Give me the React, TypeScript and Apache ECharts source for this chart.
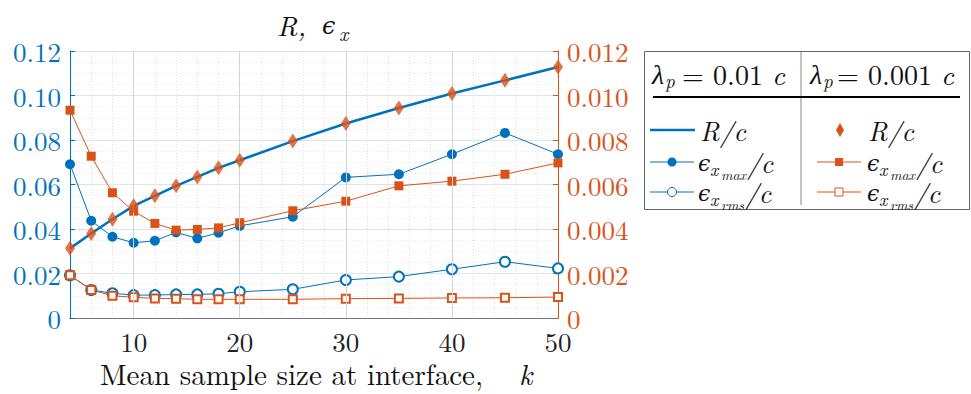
import React, { useEffect, useRef } from "react";
import * as echarts from "echarts";

const kValues = [4, 6, 8, 10, 12, 14, 16, 18, 20, 25, 30, 35, 40, 45, 50];
const xTickLabels = [10, 20, 30, 40, 50];

// lambda_p = 0.01 c  (left axis)
const R01 = [0.0313, 0.038, 0.0444, 0.0504, 0.0549, 0.0594, 0.0634, 0.0675, 0.0709, 0.0795, 0.0874, 0.0944, 0.1009, 0.1068, 0.1128];
const epsMax01 = [0.0691, 0.0437, 0.0365, 0.0338, 0.0347, 0.0385, 0.0358, 0.0383, 0.0414, 0.0455, 0.0632, 0.0646, 0.0736, 0.0832, 0.0736];
const epsRms01 = [0.0192, 0.0126, 0.0111, 0.0103, 0.0103, 0.0106, 0.0106, 0.0109, 0.0118, 0.0129, 0.0171, 0.0186, 0.0219, 0.0253, 0.0223];

// lambda_p = 0.001 c (right axis)
const R001 = [0.00313, 0.0038, 0.00444, 0.00504, 0.00549, 0.00594, 0.00634, 0.00675, 0.00709, 0.00795, 0.00874, 0.00944, 0.01009, 0.01068, 0.01128];
const epsMax001 = [0.00934, 0.00727, 0.00563, 0.0048, 0.00425, 0.00395, 0.00398, 0.00405, 0.00428, 0.00482, 0.00525, 0.00594, 0.00615, 0.00646, 0.00697];
const epsRms001 = [0.00192, 0.00126, 0.001, 0.00093, 0.00088, 0.00087, 0.00084, 0.00084, 0.00084, 0.00084, 0.00087, 0.00088, 0.0009, 0.00091, 0.00094];

const BLUE = "#0072BD";
const ORANGE = "#D95319";
const FONT = "Latin Modern Roman";
const EPS_FONT = "DejaVu Serif";

function txt(x: number, y: number, text: string, size: number, italic = false, family = FONT, fill = "#111") {
  return {
    type: "text",
    x,
    y,
    silent: true,
    style: {
      text,
      fontFamily: family,
      fontSize: size,
      fontStyle: italic ? "italic" : "normal",
      fill,
      align: "left",
      verticalAlign: "middle",
    },
  };
}

function epsLabel(x: number, y: number, sub: string) {
  return [
    txt(x, y + 1, "\u03f5", 22, true, EPS_FONT),
    txt(x + 12, y + 6, "x", 18, true),
    txt(x + 23, y + 12, sub, 14, true),
    txt(x + (sub === "max" ? 49 : 47), y, "/c", 27, true),
  ];
}

export default function App() {
  const ref = useRef<HTMLDivElement>(null);
  useEffect(() => {
    const chart = echarts.init(ref.current!, null, { renderer: "svg" });
    const pairs = (ys: number[]) => kValues.map((k, i) => [k, ys[i]]);

    const legendY1 = 130;
    const legendY2 = 162;
    const legendY3 = 192;

    const graphic: any[] = [
      // title
      txt(277, 24, "R,", 28, true),
      txt(322, 26, "\u03f5", 24, true, EPS_FONT),
      txt(339, 32, "x", 20, true),
      // x axis name
      txt(100, 372, "Mean sample size at interface,", 29, false),
      txt(519, 372, "k", 29, true),
      // legend box
      {
        type: "rect",
        shape: { x: 644.5, y: 51.5, width: 325, height: 158 },
        style: { fill: "#fff", stroke: "#666", lineWidth: 1 },
        silent: true,
      },
      {
        type: "line",
        shape: { x1: 801, y1: 52, x2: 801, y2: 205 },
        style: { stroke: "#888", lineWidth: 1 },
        silent: true,
      },
      {
        type: "line",
        shape: { x1: 653, y1: 97, x2: 960, y2: 97 },
        style: { stroke: "#000", lineWidth: 2 },
        silent: true,
      },
      // headers
      txt(652, 72, "\u03bb", 28, true),
      txt(665, 80, "p", 19, true),
      txt(682, 73, "= 0.01", 28, false),
      txt(772, 73, "c", 28, true),
      txt(810, 72, "\u03bb", 28, true),
      txt(823, 80, "p", 19, true),
      txt(837, 73, "= 0.001", 28, false),
      txt(941, 73, "c", 28, true),
      // row 1
      {
        type: "line",
        shape: { x1: 650, y1: legendY1, x2: 695, y2: legendY1 },
        style: { stroke: BLUE, lineWidth: 2.5 },
        silent: true,
      },
      txt(700, legendY1, "R/c", 27, true),
      {
        type: "polygon",
        shape: { points: [[840, legendY1 - 7], [844, legendY1], [840, legendY1 + 7], [836, legendY1]] },
        style: { fill: ORANGE },
        silent: true,
      },
      txt(868, legendY1, "R/c", 27, true),
      // row 2
      {
        type: "line",
        shape: { x1: 650, y1: legendY2, x2: 694, y2: legendY2 },
        style: { stroke: BLUE, lineWidth: 1 },
        silent: true,
      },
      {
        type: "circle",
        shape: { cx: 672, cy: legendY2, r: 4.5 },
        style: { fill: BLUE },
        silent: true,
      },
      ...epsLabel(698, legendY2, "max"),
      {
        type: "line",
        shape: { x1: 817, y1: legendY2, x2: 861, y2: legendY2 },
        style: { stroke: ORANGE, lineWidth: 1 },
        silent: true,
      },
      {
        type: "rect",
        shape: { x: 835, y: legendY2 - 4, width: 8, height: 8 },
        style: { fill: ORANGE },
        silent: true,
      },
      ...epsLabel(867, legendY2, "max"),
      // row 3
      {
        type: "line",
        shape: { x1: 650, y1: legendY3, x2: 694, y2: legendY3 },
        style: { stroke: BLUE, lineWidth: 1 },
        silent: true,
      },
      {
        type: "circle",
        shape: { cx: 672, cy: legendY3, r: 4.5 },
        style: { fill: "#fff", stroke: BLUE, lineWidth: 1 },
        silent: true,
      },
      ...epsLabel(698, legendY3, "rms"),
      {
        type: "line",
        shape: { x1: 817, y1: legendY3, x2: 861, y2: legendY3 },
        style: { stroke: ORANGE, lineWidth: 1 },
        silent: true,
      },
      {
        type: "rect",
        shape: { x: 835, y: legendY3 - 4, width: 8, height: 8 },
        style: { fill: "#fff", stroke: ORANGE, lineWidth: 1 },
        silent: true,
      },
      ...epsLabel(867, legendY3, "rms"),
    ];

    chart.setOption({
      animation: false,
      backgroundColor: "#fff",
      grid: { left: 70, right: 413, top: 51, bottom: 76, containLabel: false },
      xAxis: [
        {
          type: "value",
          min: 4,
          max: 50,
          interval: 2,
          axisLine: { show: true, lineStyle: { color: "#444", width: 1 } },
          axisTick: { show: false },
          axisLabel: {
            formatter: (v: number) => (xTickLabels.includes(v) ? String(v) : ""),
            fontFamily: FONT,
            fontSize: 27,
            color: "#222",
            margin: 9,
          },
          splitLine: { show: true, lineStyle: { color: "#e0e0e0", type: [1, 2], width: 1 } },
        },
        {
          type: "value",
          position: "top",
          min: 4,
          max: 50,
          interval: 2,
          axisLine: { show: true, lineStyle: { color: "#777", width: 1 } },
          axisTick: { show: false },
          axisLabel: { show: false },
          splitLine: { show: false },
        },
      ],
      yAxis: [
        {
          type: "value",
          position: "left",
          min: 0,
          max: 0.12,
          interval: 0.02,
          axisLine: { show: true, lineStyle: { color: BLUE, width: 1 } },
          axisTick: { show: true, inside: true, length: 5, lineStyle: { color: BLUE } },
          axisLabel: {
            color: BLUE,
            fontFamily: FONT,
            fontSize: 27,
            margin: 9,
            formatter: (v: number) => (v === 0 ? "0" : v.toFixed(2)),
          },
          splitLine: { show: true, lineStyle: { color: "#dbe5ee", width: 1 } },
          minorTick: { show: false, splitNumber: 4 },
          minorSplitLine: { show: true, lineStyle: { color: "#e3e7eb", type: [1, 2], width: 1 } },
        },
        {
          type: "value",
          position: "right",
          min: 0,
          max: 0.012,
          interval: 0.002,
          axisLine: { show: true, lineStyle: { color: ORANGE, width: 1 } },
          axisTick: { show: true, inside: true, length: 5, lineStyle: { color: ORANGE } },
          axisLabel: {
            color: ORANGE,
            fontFamily: FONT,
            fontSize: 27,
            margin: 9,
            formatter: (v: number) => (v === 0 ? "0" : v.toFixed(3)),
          },
          splitLine: { show: false },
        },
      ],
      graphic,
      series: [
        {
          name: "grid",
          type: "line",
          data: [],
          z: 1,
          silent: true,
          markLine: {
            silent: true,
            symbol: ["none", "none"],
            label: { show: false },
            lineStyle: { color: "#d4d4d4", type: "solid", width: 1 },
            data: xTickLabels.slice(0, 4).map((v) => ({ xAxis: v })),
          },
        },
        {
          name: "R/c (0.01c)",
          type: "line",
          yAxisIndex: 0,
          data: pairs(R01),
          symbol: "none",
          lineStyle: { color: BLUE, width: 2.5 },
          itemStyle: { color: BLUE },
          z: 3,
        },
        {
          name: "eps max (0.01c)",
          type: "line",
          yAxisIndex: 0,
          data: pairs(epsMax01),
          symbol: "circle",
          symbolSize: 10,
          lineStyle: { color: BLUE, width: 1 },
          itemStyle: { color: BLUE },
          z: 3,
        },
        {
          name: "eps rms (0.01c)",
          type: "line",
          yAxisIndex: 0,
          data: pairs(epsRms01),
          symbol: "emptyCircle",
          symbolSize: 10,
          lineStyle: { color: BLUE, width: 1 },
          itemStyle: { color: BLUE, borderWidth: 1 },
          z: 3,
        },
        {
          name: "eps max (0.001c)",
          type: "line",
          yAxisIndex: 1,
          data: pairs(epsMax001),
          symbol: "rect",
          symbolSize: 9,
          lineStyle: { color: ORANGE, width: 1 },
          itemStyle: { color: ORANGE },
          z: 4,
        },
        {
          name: "eps rms (0.001c)",
          type: "line",
          yAxisIndex: 1,
          data: pairs(epsRms001),
          symbol: "emptyRect",
          symbolSize: 8,
          lineStyle: { color: ORANGE, width: 1 },
          itemStyle: { color: ORANGE, borderWidth: 1 },
          z: 4,
        },
        {
          name: "R/c (0.001c)",
          type: "scatter",
          yAxisIndex: 1,
          data: pairs(R001),
          symbol: "diamond",
          symbolSize: [10, 15],
          itemStyle: { color: ORANGE },
          z: 5,
        },
      ],
    });
    return () => chart.dispose();
  }, []);
  return <div ref={ref} style={{ position: "fixed", left: 0, top: 0, width: 971, height: 394 }} />;
}
